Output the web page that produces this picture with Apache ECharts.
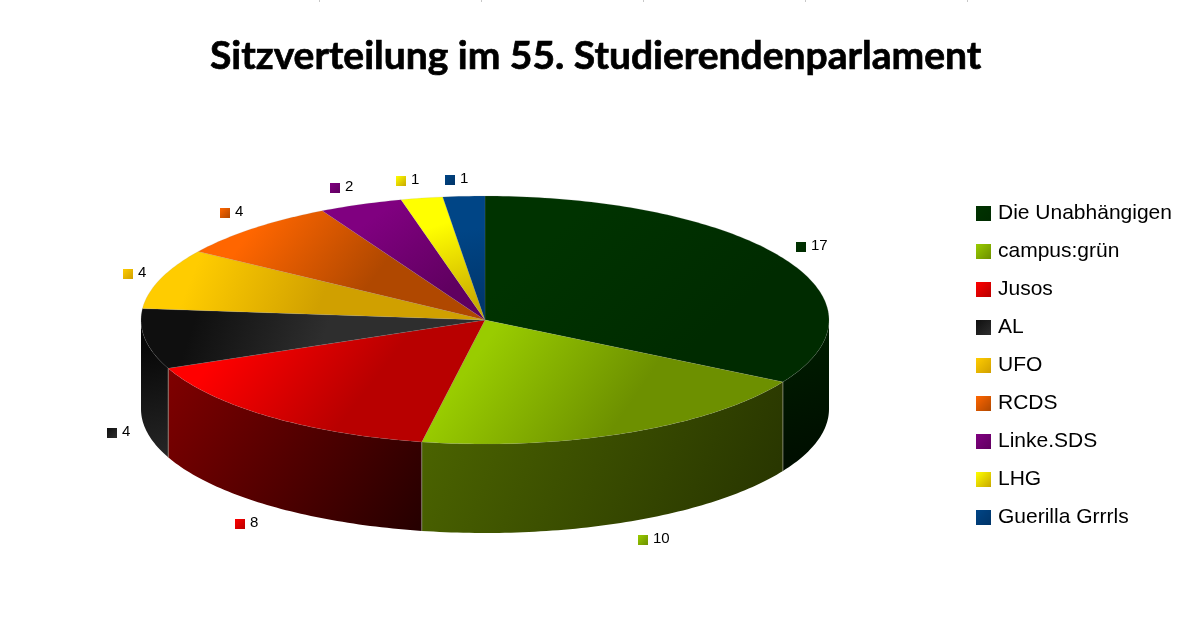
<!DOCTYPE html>
<html><head><meta charset="utf-8">
<style>html,body{margin:0;padding:0;background:#fff}#c{width:1182px;height:631px}</style>
<script src="https://cdn.jsdelivr.net/npm/echarts@6/dist/echarts.min.js"></script>
</head><body><div id="c"></div>
<script>
const chartTitle = 'Sitzverteilung im 55. Studierendenparlament';
const parties = ['Die Unabhängigen','campus:grün','Jusos','AL','UFO','RCDS','Linke.SDS','LHG','Guerilla Grrrls'];
const seats = [17,10,8,4,4,4,2,1,1];
const topFrom = ['#003300','#99cc00','#ff0000','#0f0f0f','#ffcc00','#ff6600','#800080','#ffff00','#004586'];
const topTo   = ['#002b00','#6d9000','#b80000','#2e2e2e','#d0a000','#b04800','#600060','#c8a800','#003468'];
const wallFrom = ['#001f00','#4d6600','#800000','#000000','#806600','#803300','#400040','#808000','#002040'];
const wallTo   = ['#000c00','#263300','#250000','#262626','#403300','#401900','#200020','#404000','#001020'];
const labelNudge = [[-11,-2],[0,2],[-8,4],[1,2],[0,1],[-5,-2],[-13,0],[-15,1],[-12,2]];

const CX = 485, CY = 320, RX = 344, RY = 124, DEPTH = 89;
const LABEL_RX = 378, LABEL_RY = 142;
const total = seats.reduce((a, b) => a + b, 0);
const starts = [];
seats.reduce((acc, v, i) => { starts[i] = acc; return acc + v; }, 0);

function rim(angle, dy) {
  return [CX + RX * Math.sin(angle), CY + dy - RY * Math.cos(angle)];
}
function grad(a, b) {
  return { type: 'linear', x: 0, y: 0, x2: 1, y2: 1, colorStops: [{ offset: 0, color: a }, { offset: 1, color: b }] };
}
function topGrad(a, b) {
  return { type: 'linear', x: 0, y: 0, x2: 0.5, y2: 1, colorStops: [{ offset: 0, color: a }, { offset: 0.3, color: a }, { offset: 1, color: b }] };
}
function arc(a0, a1, dy) {
  const n = Math.max(2, Math.ceil((a1 - a0) / (Math.PI / 180)));
  const pts = [];
  for (let k = 0; k <= n; k++) pts.push(rim(a0 + (a1 - a0) * k / n, dy));
  return pts;
}

function makeRender(i) {
  return function (params, api) {
    const value = api.value(0);
    const a0 = starts[i] / total * 2 * Math.PI;
    const a1 = a0 + value / total * 2 * Math.PI;
    const mid = (a0 + a1) / 2;
    const children = [];

    // visible outer wall: only the part facing the viewer (90deg..270deg clockwise from top)
    const w0 = Math.max(a0, Math.PI / 2), w1 = Math.min(a1, Math.PI * 1.5);
    if (w1 > w0) {
      const upper = arc(w0, w1, 0), lower = arc(w0, w1, DEPTH).reverse();
      children.push({
        type: 'polygon', z2: 1,
        shape: { points: upper.concat(lower) },
        style: { fill: grad(wallFrom[i], wallTo[i]) }
      });
      // thin edge at the visible radial seam
      if (a1 < Math.PI * 1.5) {
        const p = rim(a1, 0), q = rim(a1, DEPTH);
        children.push({
          type: 'line', z2: 3,
          shape: { x1: p[0], y1: p[1], x2: q[0], y2: q[1] },
          style: { stroke: '#9a9a8c', lineWidth: 1, opacity: 0.7 }
        });
      }
    }
    // top face
    children.push({
      type: 'polygon', z2: 5,
      shape: { points: [[CX, CY]].concat(arc(a0, a1, 0)) },
      style: { fill: topGrad(topFrom[i], topTo[i]), stroke: 'rgba(150,150,150,0.25)', lineWidth: 0.6 }
    });
    // value label: key square + number
    const front = Math.cos(mid) < 0;
    const lx = CX + LABEL_RX * Math.sin(mid) + labelNudge[i][0];
    const ly = CY + (front ? DEPTH : 0) - LABEL_RY * Math.cos(mid) + labelNudge[i][1];
    children.push({
      type: 'rect', z2: 8,
      shape: { x: Math.round(lx) - 5, y: Math.round(ly) - 5, width: 10, height: 10 },
      style: { fill: grad(topFrom[i], topTo[i]) }
    });
    children.push({
      type: 'text', z2: 8,
      style: {
        x: Math.round(lx) + 10, y: Math.round(ly) - 1, text: String(value),
        fill: '#000', font: '15px "Liberation Sans"', textAlign: 'left', textVerticalAlign: 'middle'
      }
    });
    return { type: 'group', children };
  };
}

const chart = echarts.init(document.getElementById('c'), null, { renderer: 'canvas' });
chart.setOption({
  animation: false,
  backgroundColor: '#ffffff',
  title: {
    text: chartTitle, left: 210, top: 37, padding: 0,
    textStyle: { fontFamily: 'Lato', fontWeight: 'bold', fontSize: 39, color: '#000', textBorderColor: '#000', textBorderWidth: 0.7 }
  },
  legend: {
    orient: 'vertical', left: 976, top: 203, padding: 0, selectedMode: false,
    itemWidth: 15, itemHeight: 15, itemGap: 17, icon: 'rect',
    data: parties,
    textStyle: { fontFamily: 'Liberation Sans', fontSize: 21, lineHeight: 21, color: '#000', padding: [0, 0, 0, 2] }
  },
  series: parties.map((name, i) => ({
    type: 'custom', name,
    coordinateSystem: 'none',
    silent: true,
    itemStyle: { color: grad(topFrom[i], topTo[i]) },
    data: [[seats[i]]],
    renderItem: makeRender(i)
  })),
  graphic: [319, 481, 643, 805, 967].map(x => ({
    type: 'line', shape: { x1: x + 0.5, y1: 0, x2: x + 0.5, y2: 2 }, style: { stroke: '#c8c8c8', lineWidth: 1 }
  }))
});
</script></body></html>
